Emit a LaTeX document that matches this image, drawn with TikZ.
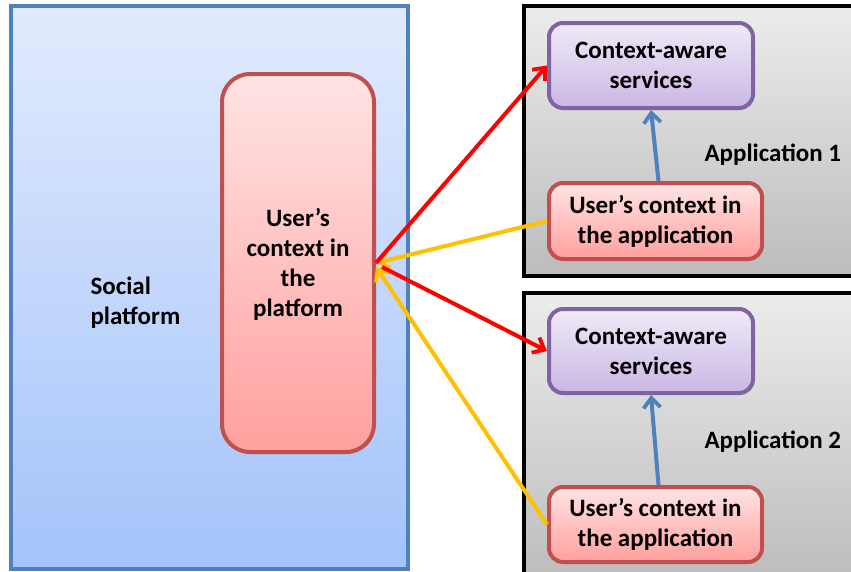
\documentclass[tikz,border=0pt]{standalone}
\usepackage{fontspec}
\setmainfont{Carlito}
\usetikzlibrary{arrows.meta,shadows}
\definecolor{platblue}{HTML}{4F81BD}
\definecolor{boxred}{HTML}{C0504D}
\definecolor{boxpurple}{HTML}{8064A2}
\definecolor{linkred}{HTML}{FF0000}
\definecolor{linkyellow}{HTML}{FFC000}
\tikzset{
  txt/.style={font=\bfseries\fontsize{25}{30}\selectfont, align=center, text=black},
  platformbox/.style={draw=platblue, line width=4pt, top color={rgb,255:red,226;green,235;blue,253}, bottom color={rgb,255:red,163;green,195;blue,250}},
  appbox/.style={draw=black, line width=4pt, top color={rgb,255:red,236;green,236;blue,236}, bottom color={rgb,255:red,188;green,188;blue,188}},
  ctxbox/.style={draw=boxred, line width=4pt, top color={rgb,255:red,255;green,228;blue,228}, bottom color={rgb,255:red,255;green,160;blue,158}, drop shadow={opacity=0.25, shadow xshift=1.5pt, shadow yshift=-2pt}},
  servbox/.style={draw=boxpurple, line width=4pt, top color={rgb,255:red,240;green,234;blue,248}, bottom color={rgb,255:red,202;green,183;blue,228}, drop shadow={opacity=0.25, shadow xshift=1.5pt, shadow yshift=-2pt}},
  tip/.style={-{Straight Barb[length=10pt,width=17pt,line width=3.8pt]}, line width=4pt},
}
\begin{document}
\begin{tikzpicture}[x=1pt,y=-1pt]
  \clip (0,0) rectangle (851,571);
  \fill[white] (0,0) rectangle (851,571);

  % social platform and its context box
  \node[platformbox, minimum width=397pt, minimum height=563pt, inner sep=0pt] (social) at (209.5,287.5) {};
  \node[txt, align=left, anchor=west] (sociallbl) at (87,303) {Social\\platform};
  \node[ctxbox, rounded corners=28pt, minimum width=152pt, minimum height=378pt, inner sep=0pt] (plat) at (298,263) {};
  \node[txt] (platlbl) at (298,264) {User’s\\context in\\the\\platform};

  % application frames
  \node[appbox, minimum width=350pt, minimum height=270pt, inner sep=0pt] (app1) at (699,141) {};
  \node[appbox, minimum width=350pt, minimum height=290pt, inner sep=0pt] (app2) at (699,438) {};
  \node[txt, anchor=west] (app1lbl) at (701,155) {Application 1};
  \node[txt, anchor=west] (app2lbl) at (701,442) {Application 2};

  % boxes inside the applications
  \node[servbox, rounded corners=14pt, minimum width=204pt, minimum height=85pt, inner sep=0pt, txt] (ca1) at (651,65.5) {Context-aware\\services};
  \node[ctxbox, rounded corners=14pt, minimum width=213pt, minimum height=76pt, inner sep=0pt, txt] (uca1) at (655.5,221) {User’s context in\\the application};
  \node[servbox, rounded corners=14pt, minimum width=204pt, minimum height=84pt, inner sep=0pt, txt] (ca2) at (651,351) {Context-aware\\services};
  \node[ctxbox, rounded corners=14pt, minimum width=213pt, minimum height=75pt, inner sep=0pt, txt] (uca2) at (655.5,524.5) {User’s context in\\the application};

  % links inside each application
  \draw[tip, platblue] ([xshift=3pt]uca1.north) -- (ca1.south);
  \draw[tip, platblue] ([xshift=3pt]uca2.north) -- (ca2.south);

  % links between the platform and the applications
  \draw[tip, linkyellow] (uca1.west) -- (plat.east);
  \draw[tip, linkyellow] (uca2.west) -- ([yshift=-4pt]plat.east);
  \draw[tip, linkred] (plat.east) -- (ca1.west);
  \draw[tip, linkred] ([xshift=6pt,yshift=-4pt]plat.east) -- (ca2.west);
\end{tikzpicture}
\end{document}
